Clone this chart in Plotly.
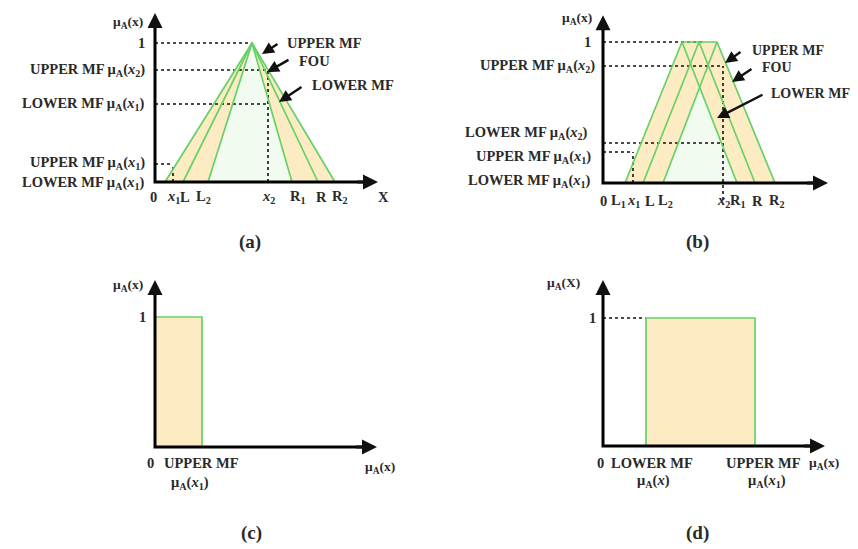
import plotly.graph_objects as go

W, H = 858, 549
OFF = 8                      # default page margin around the plot div
FW, FH = W - OFF, H - OFF

# ---------------- Panel (a): triangular IT2 MF ----------------
A_UPPER_X = [1.0, 9.7, 18.0]
A_PRIMARY_X = [2.8, 9.7, 16.3]
A_LOWER_X = [5.3, 9.7, 13.7]
A_TRI_Y = [0.0, 1.0, 0.0]
A_X1 = 1.8
A_X2 = 11.3
A_UPPER_MU_X2 = 0.806
A_LOWER_MU_X2 = 0.561
A_UPPER_MU_X1 = 0.13
A_XAXIS_END = 22.3
A_YAXIS_END = 1.216
A_TICK_POS = [-0.2, 1.8, 3.0, 4.8, 11.3, 14.3, 16.6, 18.5, 22.8]
A_TICK_TEXT = ["0", "<i>x</i><sub>1</sub>", "L", "L<sub>2</sub>", "<i>x</i><sub>2</sub>",
               "R<sub>1</sub>", "R", "R<sub>2</sub>", "X"]
A_LEVEL_POS = [1.0, 0.806, 0.561, 0.137, -0.007]
A_LEVEL_TEXT = ["1",
                "UPPER MF μ<sub>A</sub>(<i>x</i><sub>2</sub>)",
                "LOWER MF μ<sub>A</sub>(<i>x</i><sub>1</sub>)",
                "UPPER MF μ<sub>A</sub>(<i>x</i><sub>1</sub>)",
                "LOWER MF μ<sub>A</sub>(<i>x</i><sub>1</sub>)"]

# ---------------- Panel (b): shifted-mean IT2 MF ----------------
B_LEFT_X = [2.2, 7.9, 13.4]
B_MID_X = [4.0, 9.6, 15.2]
B_RIGHT_X = [6.0, 11.4, 17.2]
B_TRI_Y = [0.0, 1.0, 0.0]
B_LOWER_PEAK = [9.67, 0.68]
B_X1 = 3.0
B_X2 = 12.0
B_UPPER_MU_X2 = 0.83
B_LOWER_MU_X2 = 0.284
B_UPPER_MU_X1 = 0.22
B_TOP_DOT_END = 10.0
B_XAXIS_END = 22.5
B_YAXIS_END = 1.19
B_TICK_POS = [0.0, 1.5, 3.0, 4.7, 6.2, 12.0, 13.5, 15.4, 17.4]
B_TICK_TEXT = ["0", "L<sub>1</sub>", "<i>x</i><sub>1</sub>", "L", "L<sub>2</sub>",
               "<i>x</i><sub>2</sub>", "R<sub>1</sub>", "R", "R<sub>2</sub>"]
B_LEVEL_POS = [1.0, 0.83, 0.355, 0.184, 0.014]
B_LEVEL_RIGHT = [-1.0, -0.6, -1.3, -1.0, -1.0]
B_LEVEL_TEXT = ["1",
                "UPPER MF μ<sub>A</sub>(<i>x</i><sub>2</sub>)",
                "LOWER MF μ<sub>A</sub>(<i>x</i><sub>2</sub>)",
                "UPPER MF μ<sub>A</sub>(<i>x</i><sub>1</sub>)",
                "LOWER MF μ<sub>A</sub>(<i>x</i><sub>1</sub>)"]

# ---------------- Panel (c): secondary MF at x1 ----------------
C_UPPER_MU_X1 = 0.235
C_HEIGHT = 1.0
C_XAXIS_END = 1.11
C_YAXIS_END = 1.285

# ---------------- Panel (d): secondary MF at x ----------------
D_LOWER_MU = 0.215
D_UPPER_MU = 0.76
D_HEIGHT = 1.0
D_XAXIS_END = 1.11
D_YAXIS_END = 1.297

GREEN = "#66d166"
FOU = "#fcebc3"
INNER = "#f1fbf0"
INK = "#2a2a2a"
FONT = "Liberation Serif"
LBL = 14.5
PNL = 19

# panel frames in reference pixels: domain (x0, x1, ytop, ybottom), origin, px per unit
PANELS = {
    "": dict(dom=(OFF, 429, OFF, 274.5), org=(155, 182), s=(10, 139)),
    "2": dict(dom=(429, W, OFF, 274.5), org=(603, 183), s=(10, 141)),
    "3": dict(dom=(OFF, 429, 274.5, H), org=(155, 447), s=(200, 130)),
    "4": dict(dom=(429, W, 274.5, H), org=(603, 446), s=(200, 128)),
}

fig = go.Figure()
annotations = []


def add_line(k, xs, ys, color=GREEN, width=1.7, dash=None):
    fig.add_trace(go.Scatter(x=xs, y=ys, mode="lines", xaxis="x" + k, yaxis="y" + k,
                             line=dict(color=color, width=width, dash=dash),
                             hoverinfo="skip", showlegend=False))


def add_fill(k, xs, ys, color):
    fig.add_trace(go.Scatter(x=xs, y=ys, mode="lines", fill="toself", fillcolor=color,
                             xaxis="x" + k, yaxis="y" + k, line=dict(width=0, color=color),
                             hoverinfo="skip", showlegend=False))


def dotted(k, xs, ys):
    add_line(k, xs, ys, color="#111111", width=1.6, dash="dot")


def text(k, x, y, s, anchor="center", size=LBL):
    annotations.append(dict(xref="x" + k, yref="y" + k, x=x, y=y, text=s, showarrow=False,
                            xanchor=anchor, yanchor="middle",
                            font=dict(family=FONT, size=size, color=INK, weight="bold")))


def arrow(k, tail, head, width=2.4, size=1.0):
    annotations.append(dict(xref="x" + k, yref="y" + k, x=head[0], y=head[1],
                            axref="x" + k, ayref="y" + k, ax=tail[0], ay=tail[1],
                            text="", showarrow=True, arrowhead=2, arrowsize=size,
                            arrowwidth=width, arrowcolor="#111111", standoff=0))


def axes(k, xend, yend):
    add_line(k, [0, 0, xend * 0.97], [yend * 0.97, 0, 0], color="#000000", width=3)
    arrow(k, (xend * 0.9, 0), (xend, 0), width=3, size=1.0)
    arrow(k, (0, yend * 0.9), (0, yend), width=3, size=1.0)


# ---- panel (a)
k = ""
add_fill(k, A_UPPER_X, A_TRI_Y, FOU)
add_fill(k, A_LOWER_X, A_TRI_Y, INNER)
dotted(k, [0, A_UPPER_X[1]], [1, 1])
dotted(k, [0, A_X2], [A_UPPER_MU_X2, A_UPPER_MU_X2])
dotted(k, [0, A_X2], [A_LOWER_MU_X2, A_LOWER_MU_X2])
dotted(k, [A_X2, A_X2], [0, A_UPPER_MU_X2])
dotted(k, [0, A_X1], [A_UPPER_MU_X1, A_UPPER_MU_X1])
dotted(k, [A_X1, A_X1], [0, A_UPPER_MU_X1])
for xs in (A_UPPER_X, A_PRIMARY_X, A_LOWER_X):
    add_line(k, xs, A_TRI_Y)
axes(k, A_XAXIS_END, A_YAXIS_END)
for p, t in zip(A_TICK_POS, A_TICK_TEXT):
    text(k, p, -0.108, t)
for p, t in zip(A_LEVEL_POS, A_LEVEL_TEXT):
    text(k, -0.8, p, t, anchor="right")
text(k, -2.7, 1.151, "μ<sub>A</sub>(x)", size=13.5)
text(k, 13.0, 1.0, "UPPER MF", anchor="left")
text(k, 14.2, 0.872, "FOU", anchor="left")
text(k, 15.5, 0.698, "LOWER MF", anchor="left")
arrow(k, (12.4, 1.0), (10.7, 0.92))
arrow(k, (13.5, 0.885), (11.2, 0.79))
arrow(k, (14.8, 0.69), (12.4, 0.576))
text(k, 9.5, -0.432, "(a)", size=PNL)

# ---- panel (b)
k = "2"
add_fill(k, [B_LEFT_X[0], B_LEFT_X[1], B_RIGHT_X[1], B_RIGHT_X[2]], [0, 1, 1, 0], FOU)
add_fill(k, [B_RIGHT_X[0], B_LOWER_PEAK[0], B_LEFT_X[2]], [0, B_LOWER_PEAK[1], 0], INNER)
dotted(k, [0, B_TOP_DOT_END], [1, 1])
dotted(k, [0, B_X2], [B_UPPER_MU_X2, B_UPPER_MU_X2])
dotted(k, [0, B_X2], [B_LOWER_MU_X2, B_LOWER_MU_X2])
dotted(k, [B_X2, B_X2], [-0.12, B_UPPER_MU_X2])
dotted(k, [0, B_X1], [B_UPPER_MU_X1, B_UPPER_MU_X1])
dotted(k, [B_X1, B_X1], [0, B_UPPER_MU_X1])
for xs in (B_LEFT_X, B_MID_X, B_RIGHT_X):
    add_line(k, xs, B_TRI_Y)
add_line(k, [B_LEFT_X[1], B_RIGHT_X[1]], [1, 1])
axes(k, B_XAXIS_END, B_YAXIS_END)
for p, t in zip(B_TICK_POS, B_TICK_TEXT):
    text(k, p, -0.128, t)
for p, r, t in zip(B_LEVEL_POS, B_LEVEL_RIGHT, B_LEVEL_TEXT):
    text(k, r, p, t, anchor="right")
text(k, -2.6, 1.165, "μ<sub>A</sub>(x)", size=13.5)
text(k, 14.7, 0.943, "UPPER MF", anchor="left", size=14)
text(k, 15.7, 0.816, "FOU", anchor="left", size=14)
text(k, 16.6, 0.638, "LOWER MF", anchor="left", size=14)
arrow(k, (13.9, 0.936), (12.2, 0.851))
arrow(k, (15.0, 0.816), (12.9, 0.716))
arrow(k, (16.1, 0.631), (11.4, 0.461))
text(k, 9.4, -0.418, "(b)", size=PNL)

# ---- panel (c)
k = "3"
add_fill(k, [0, 0, C_UPPER_MU_X1, C_UPPER_MU_X1], [0, C_HEIGHT, C_HEIGHT, 0], FOU)
add_line(k, [0, C_UPPER_MU_X1, C_UPPER_MU_X1], [C_HEIGHT, C_HEIGHT, 0])
axes(k, C_XAXIS_END, C_YAXIS_END)
text(k, -0.135, 1.246, "μ<sub>A</sub>(x)", size=13.5)
text(k, -0.065, 1.0, "1")
text(k, -0.025, -0.123, "0")
text(k, 0.23, -0.123, "UPPER MF")
text(k, 0.175, -0.277, "μ<sub>A</sub>(<i>x</i><sub>1</sub>)")
text(k, 1.125, -0.16, "μ<sub>A</sub>(x)", size=13.5)
text(k, 0.48, -0.66, "(c)", size=PNL)

# ---- panel (d)
k = "4"
add_fill(k, [D_LOWER_MU, D_LOWER_MU, D_UPPER_MU, D_UPPER_MU], [0, D_HEIGHT, D_HEIGHT, 0], FOU)
dotted(k, [0, D_LOWER_MU], [D_HEIGHT, D_HEIGHT])
add_line(k, [D_LOWER_MU, D_LOWER_MU, D_UPPER_MU, D_UPPER_MU], [0, D_HEIGHT, D_HEIGHT, 0])
axes(k, D_XAXIS_END, D_YAXIS_END)
text(k, -0.2, 1.27, "μ<sub>A</sub>(X)", size=13.5)
text(k, -0.055, 1.0, "1")
text(k, -0.015, -0.133, "0")
text(k, 0.245, -0.133, "LOWER MF")
text(k, 0.25, -0.273, "μ<sub>A</sub>(<i>x</i>)")
text(k, 0.8, -0.133, "UPPER MF")
text(k, 0.82, -0.273, "μ<sub>A</sub>(<i>x</i><sub>1</sub>)")
text(k, 1.105, -0.133, "μ<sub>A</sub>(x)", size=13.5)
text(k, 0.47, -0.68, "(d)", size=PNL)

layout = dict(width=FW, height=FH, margin=dict(l=0, r=0, t=0, b=0),
              paper_bgcolor="white", plot_bgcolor="white", showlegend=False,
              annotations=annotations)
for key, p in PANELS.items():
    x0, x1, yt, yb = p["dom"]
    ox, oy = p["org"]
    sx, sy = p["s"]
    layout["xaxis" + key] = dict(domain=[(x0 - OFF) / FW, (x1 - OFF) / FW],
                                 range=[(x0 - ox) / sx, (x1 - ox) / sx],
                                 visible=False, fixedrange=True)
    layout["yaxis" + key] = dict(domain=[1 - (yb - OFF) / FH, 1 - (yt - OFF) / FH],
                                 range=[(oy - yb) / sy, (oy - yt) / sy],
                                 visible=False, fixedrange=True)
fig.update_layout(**layout)
fig.write_html("out.html")
